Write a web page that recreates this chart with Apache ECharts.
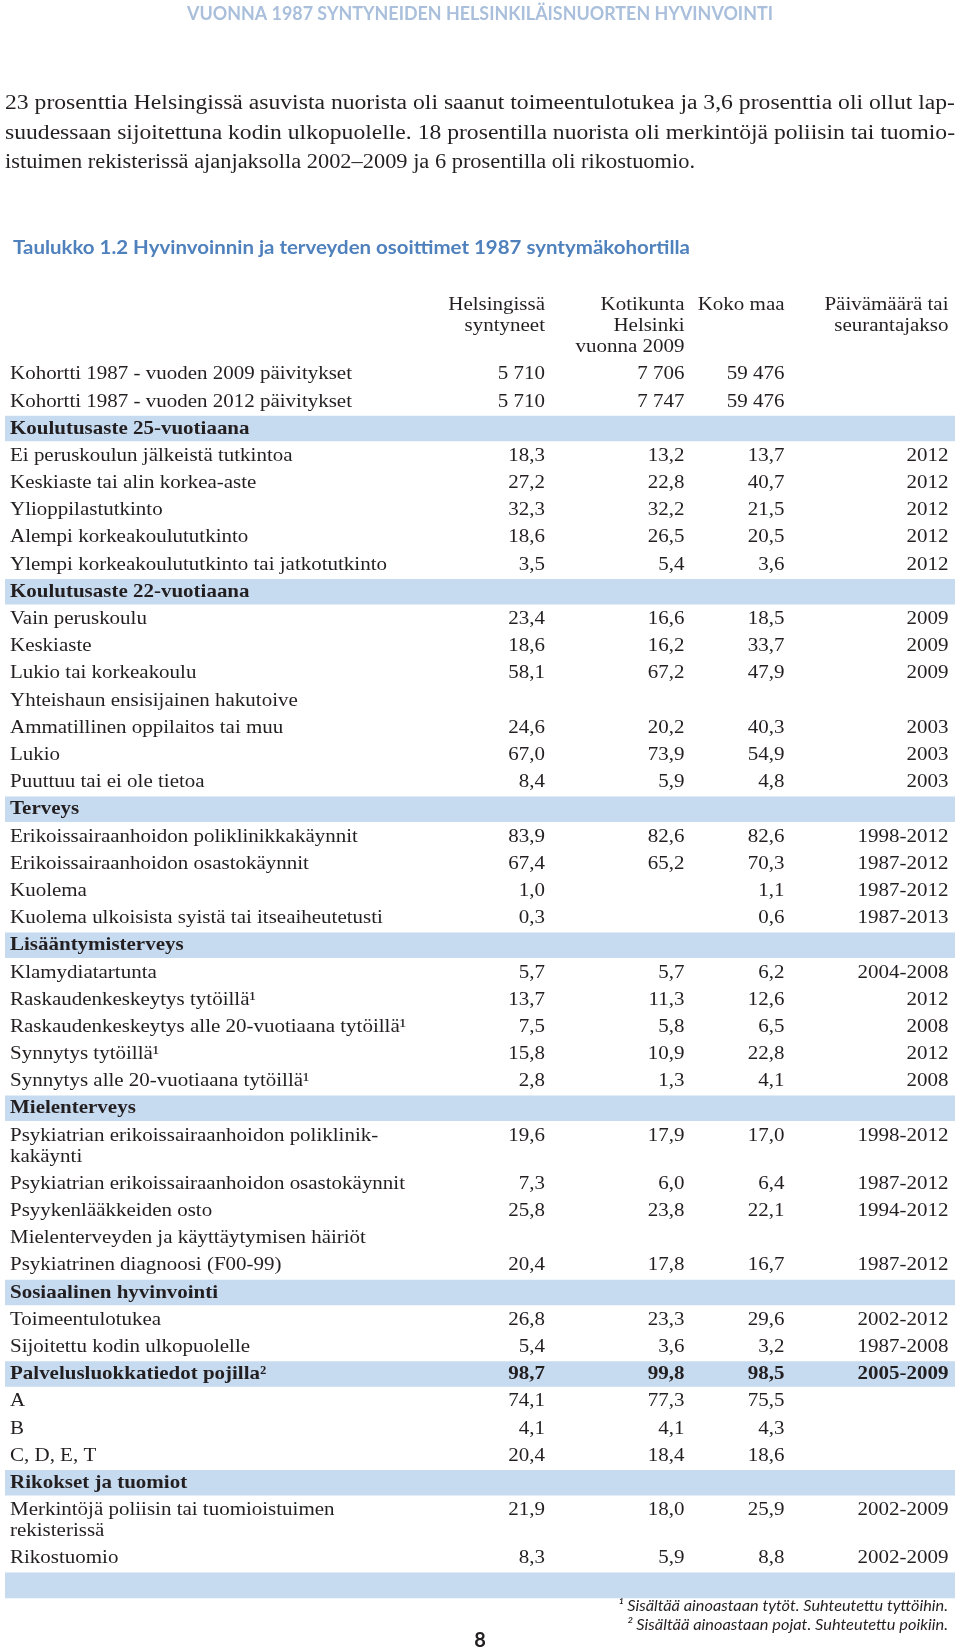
<!DOCTYPE html>
<html>
<head>
<meta charset="utf-8">
<script src="https://cdn.jsdelivr.net/npm/echarts@6/dist/echarts.min.js"></script>
<style>
  html, body { margin: 0; padding: 0; background: #fff; }
  #chart { width: 960px; height: 1649px; }
</style>
</head>
<body>
<div id="chart"></div>
<script>
// --- data ---------------------------------------------------------------
const rowLabels = [
  'Kohortti 1987 - vuoden 2009 päivitykset',
  'Kohortti 1987 - vuoden 2012 päivitykset',
  'Koulutusaste 25-vuotiaana',
  'Ei peruskoulun jälkeistä tutkintoa',
  'Keskiaste tai alin korkea-aste',
  'Ylioppilastutkinto',
  'Alempi korkeakoulututkinto',
  'Ylempi korkeakoulututkinto tai jatkotutkinto',
  'Koulutusaste 22-vuotiaana',
  'Vain peruskoulu',
  'Keskiaste',
  'Lukio tai korkeakoulu',
  'Yhteishaun ensisijainen hakutoive',
  'Ammatillinen oppilaitos tai muu',
  'Lukio',
  'Puuttuu tai ei ole tietoa',
  'Terveys',
  'Erikoissairaanhoidon poliklinikkakäynnit',
  'Erikoissairaanhoidon osastokäynnit',
  'Kuolema',
  'Kuolema ulkoisista syistä tai itseaiheutetusti',
  'Lisääntymisterveys',
  'Klamydiatartunta',
  'Raskaudenkeskeytys tytöillä¹',
  'Raskaudenkeskeytys alle 20-vuotiaana tytöillä¹',
  'Synnytys tytöillä¹',
  'Synnytys alle 20-vuotiaana tytöillä¹',
  'Mielenterveys',
  'Psykiatrian erikoissairaanhoidon poliklinik-\nkakäynti',
  'Psykiatrian erikoissairaanhoidon osastokäynnit',
  'Psyykenlääkkeiden osto',
  'Mielenterveyden ja käyttäytymisen häiriöt',
  'Psykiatrinen diagnoosi (F00-99)',
  'Sosiaalinen hyvinvointi',
  'Toimeentulotukea',
  'Sijoitettu kodin ulkopuolelle',
  'Palvelusluokkatiedot pojilla²',
  'A',
  'B',
  'C, D, E, T',
  'Rikokset ja tuomiot',
  'Merkintöjä poliisin tai tuomioistuimen\nrekisterissä',
  'Rikostuomio',
  ''
];

const helsinkiBorn = ['5 710', '5 710', '', '18,3', '27,2', '32,3', '18,6', '3,5', '', '23,4', '18,6', '58,1', '', '24,6', '67,0', '8,4',
  '', '83,9', '67,4', '1,0', '0,3', '', '5,7', '13,7', '7,5', '15,8', '2,8', '', '19,6', '7,3', '25,8', '', '20,4', '', '26,8', '5,4',
  '98,7', '74,1', '4,1', '20,4', '', '21,9', '8,3', ''];
const kotikunta = ['7 706', '7 747', '', '13,2', '22,8', '32,2', '26,5', '5,4', '', '16,6', '16,2', '67,2', '', '20,2', '73,9', '5,9',
  '', '82,6', '65,2', '', '', '', '5,7', '11,3', '5,8', '10,9', '1,3', '', '17,9', '6,0', '23,8', '', '17,8', '', '23,3', '3,6',
  '99,8', '77,3', '4,1', '18,4', '', '18,0', '5,9', ''];
const kokoMaa = ['59 476', '59 476', '', '13,7', '40,7', '21,5', '20,5', '3,6', '', '18,5', '33,7', '47,9', '', '40,3', '54,9', '4,8',
  '', '82,6', '70,3', '1,1', '0,6', '', '6,2', '12,6', '6,5', '22,8', '4,1', '', '17,0', '6,4', '22,1', '', '16,7', '', '29,6', '3,2',
  '98,5', '75,5', '4,3', '18,6', '', '25,9', '8,8', ''];
const period = ['', '', '', '2012', '2012', '2012', '2012', '2012', '', '2009', '2009', '2009', '', '2003', '2003', '2003',
  '', '1998-2012', '1987-2012', '1987-2012', '1987-2013', '', '2004-2008', '2012', '2008', '2012', '2008', '', '1998-2012', '1987-2012', '1994-2012', '', '1987-2012', '', '2002-2012', '1987-2008',
  '2005-2009', '', '', '', '', '2002-2009', '2002-2009', ''];

const sectionRows = ['Koulutusaste 25-vuotiaana', 'Koulutusaste 22-vuotiaana', 'Terveys', 'Lisääntymisterveys',
  'Mielenterveys', 'Sosiaalinen hyvinvointi', 'Palvelusluokkatiedot pojilla²', 'Rikokset ja tuomiot', ''];
const boldValueRows = ['Palvelusluokkatiedot pojilla²'];

const columnHeads = [
  ['Helsingissä', 'syntyneet'],
  ['Kotikunta', 'Helsinki', 'vuonna 2009'],
  ['Koko maa'],
  ['Päivämäärä tai', 'seurantajakso']
];

const pageTitle = 'VUONNA 1987 SYNTYNEIDEN HELSINKILÄISNUORTEN HYVINVOINTI';
const introLines = [
  '23 prosenttia Helsingissä asuvista nuorista oli saanut toimeentulotukea ja 3,6 prosenttia oli ollut lap-',
  'suudessaan sijoitettuna kodin ulkopuolelle. 18 prosentilla nuorista oli merkintöjä poliisin tai tuomio-',
  'istuimen rekisterissä ajanjaksolla 2002–2009 ja 6 prosentilla oli rikostuomio.'
];
const tableTitle = 'Taulukko 1.2 Hyvinvoinnin ja terveyden osoittimet 1987 syntymäkohortilla';
const footnotes = [
  '¹ Sisältää ainoastaan tytöt. Suhteutettu tyttöihin.',
  '² Sisältää ainoastaan pojat. Suhteutettu poikiin.'
];
const pageNumber = '8';

// --- layout -------------------------------------------------------------
const SERIF = '"Liberation Serif", "Times New Roman", serif';
const SANS = 'Lato, "Open Sans", sans-serif';
const TEXT = '#231f20';
const BAND = '#c6daf0';
const ROW_H = 27.19;
const LINE_H = 21;
const FIRST_ROW_Y = 374.2;
const LABEL_X = 10;
const COL_RIGHT = [545, 684.5, 784.5, 948.5];
const BAND_LEFT = 5, BAND_RIGHT = 955;

const measureCtx = document.createElement('canvas').getContext('2d');
function fitScale(text, font, width) {
  measureCtx.font = font;
  return width / measureCtx.measureText(text).width;
}

const tableFont = '19.5px ' + SERIF;
const TABLE_SCALE = fitScale('Psykiatrian erikoissairaanhoidon osastokäynnit', tableFont, 395);

// row centre positions in row units, two-line labels push following rows down
const rowPos = [];
let acc = 0;
rowLabels.forEach(function (label) {
  rowPos.push(acc);
  acc += 1 + (label.split('\n').length - 1) * (LINE_H / ROW_H);
});
const yMax = rowPos[rowPos.length - 1] + 0.5;

function cellText(text, x, y, align, bold) {
  return {
    type: 'text',
    x: x,
    y: y - LINE_H / 2,
    scaleX: TABLE_SCALE,
    style: {
      text: text,
      fill: TEXT,
      font: (bold ? 'bold ' : '') + tableFont,
      textAlign: align,
      textVerticalAlign: 'top',
      lineHeight: LINE_H
    }
  };
}

function plainText(text, x, y, font, fill, align, targetWidth) {
  return {
    type: 'text',
    x: x,
    y: y,
    scaleX: targetWidth ? fitScale(text, font, targetWidth) : 1,
    style: { text: text, font: font, fill: fill, textAlign: align, textVerticalAlign: 'middle' }
  };
}

const graphics = [];
graphics.push(plainText(pageTitle, 480, 14, 'bold 18.5px ' + SANS, '#a9bfdb', 'center', 586));
const introFont = '20px ' + SERIF;
const introWidths = [950, 950, 690];
introLines.forEach(function (line, k) {
  graphics.push(plainText(line, 5, 104 + k * 29.5, introFont, TEXT, 'left', introWidths[k]));
});
graphics.push(plainText(tableTitle, 13, 248, 'bold 19px ' + SANS, '#4f81bd', 'left', 677));
columnHeads.forEach(function (lines, c) {
  lines.forEach(function (line, k) {
    graphics.push(cellText(line, COL_RIGHT[c], FIRST_ROW_Y - 69 + k * LINE_H, 'right', false));
  });
});
const footFont = 'italic 15.5px ' + SANS;
graphics.push(plainText(footnotes[0], 948, 1606, footFont, TEXT, 'right', 330));
graphics.push(plainText(footnotes[1], 948, 1625, footFont, TEXT, 'right', 321));
graphics.push(plainText(pageNumber, 480, 1641, 'bold 20px ' + SANS, TEXT, 'center'));

const chart = echarts.init(document.getElementById('chart'), null, { renderer: 'canvas' });

chart.setOption({
  animation: false,
  backgroundColor: '#fff',
  grid: {
    left: 0,
    width: 960,
    top: FIRST_ROW_Y - 0.5 * ROW_H,
    height: (yMax + 0.5) * ROW_H
  },
  xAxis: { type: 'value', min: 0, max: 960, show: false },
  yAxis: { type: 'value', min: -0.5, max: yMax, inverse: true, show: false },
  graphic: graphics,
  series: [{
    type: 'custom',
    silent: true,
    data: rowLabels.map(function (_, i) { return [0, rowPos[i], i]; }),
    renderItem: function (params, api) {
      const i = api.value(2);
      const pos = rowPos[i];
      const y = api.coord([0, pos])[1];
      const unit = api.size([0, 1])[1];
      const xAt = function (v) { return api.coord([v, pos])[0]; };
      const label = rowLabels[i];
      const isSection = sectionRows.indexOf(label) >= 0;
      const boldValues = boldValueRows.indexOf(label) >= 0;
      const children = [];
      if (isSection) {
        children.push({
          type: 'rect',
          shape: { x: xAt(BAND_LEFT), y: y - unit * 0.47, width: xAt(BAND_RIGHT) - xAt(BAND_LEFT), height: unit * 0.94 },
          style: { fill: BAND }
        });
      }
      if (label) children.push(cellText(label, xAt(LABEL_X), y, 'left', isSection));
      [helsinkiBorn, kotikunta, kokoMaa, period].forEach(function (col, c) {
        if (col[i]) children.push(cellText(col[i], xAt(COL_RIGHT[c]), y, 'right', boldValues));
      });
      return { type: 'group', children: children };
    }
  }]
});
</script>
</body>
</html>
